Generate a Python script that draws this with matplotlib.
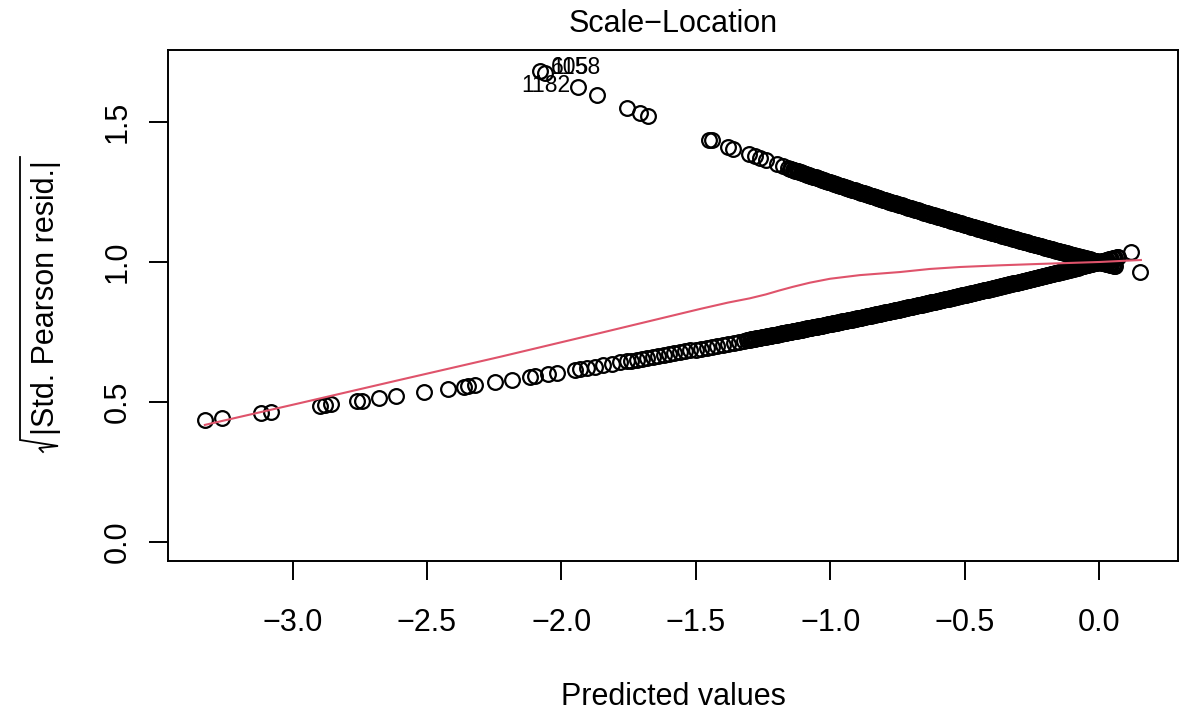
import matplotlib
matplotlib.use("Agg")
import matplotlib.pyplot as plt
from matplotlib.lines import Line2D

plt.rcParams['font.family'] = ['Liberation Sans', 'DejaVu Sans']
plt.rcParams['axes.unicode_minus'] = True

# ---- data ----
# lower branch (sparse points, left part)
low_sparse_x = [-3.326, -3.264, -3.119, -3.080, -2.898, -2.880, -2.855, -2.762, -2.743,
                -2.679, -2.615, -2.510, -2.423, -2.361, -2.347, -2.322, -2.247, -2.185,
                -2.117, -2.098, -2.049, -2.018, -1.950, -1.931, -1.906, -1.875, -1.845,
                -1.813, -1.782, -1.757]
low_sparse_y = [0.436, 0.442, 0.459, 0.464, 0.486, 0.488, 0.491, 0.502, 0.505,
                0.513, 0.521, 0.535, 0.547, 0.555, 0.557, 0.560, 0.570, 0.580,
                0.589, 0.592, 0.599, 0.604, 0.614, 0.617, 0.621, 0.626, 0.631,
                0.636, 0.641, 0.645]
# lower branch (dense band)
low_dense_x = [-1.74, -1.72, -1.70, -1.68, -1.66, -1.64, -1.62, -1.60, -1.58, -1.56, -1.54,
               -1.52, -1.50, -1.48, -1.46, -1.44, -1.42, -1.40, -1.38, -1.36, -1.34, -1.32,
               -1.31, -1.30, -1.29, -1.28, -1.27, -1.26, -1.25, -1.24, -1.23, -1.22, -1.21,
               -1.20, -1.19, -1.18, -1.17, -1.16, -1.15, -1.14, -1.13, -1.12, -1.11,
               -1.10, -1.09, -1.08, -1.07, -1.06, -1.05, -1.04, -1.03, -1.02, -1.01,
               -1.00, -0.99, -0.98, -0.97, -0.96, -0.95, -0.94, -0.93, -0.92, -0.91,
               -0.90, -0.89, -0.88, -0.87, -0.86, -0.85, -0.84, -0.83, -0.82, -0.81,
               -0.80, -0.79, -0.78, -0.77, -0.76, -0.75, -0.74, -0.73, -0.72, -0.71,
               -0.70, -0.69, -0.68, -0.67, -0.66, -0.65, -0.64, -0.63, -0.62, -0.61,
               -0.60, -0.59, -0.58, -0.57, -0.56, -0.55, -0.54, -0.53, -0.52, -0.51,
               -0.50, -0.49, -0.48, -0.47, -0.46, -0.45, -0.44, -0.43, -0.42, -0.41,
               -0.40, -0.39, -0.38, -0.37, -0.36, -0.35, -0.34, -0.33, -0.32, -0.31,
               -0.30, -0.29, -0.28, -0.27, -0.26, -0.25, -0.24, -0.23, -0.22, -0.21,
               -0.20, -0.19, -0.18, -0.17, -0.16, -0.15, -0.14, -0.13, -0.12, -0.11,
               -0.10, -0.09, -0.08, -0.07, -0.06, -0.05, -0.04, -0.03, -0.02, -0.01,
               0.00, 0.01, 0.02, 0.03, 0.04, 0.05, 0.06, 0.07, 0.118]
low_dense_y = [0.6473, 0.6506, 0.6538, 0.6570, 0.6603, 0.6637, 0.6670, 0.6703, 0.6737, 0.6771, 0.6805,
               0.6839, 0.6873, 0.6907, 0.6942, 0.6977, 0.7012, 0.7047, 0.7082, 0.7118, 0.7153, 0.7189,
               0.7207, 0.7225, 0.7243, 0.7261, 0.7280, 0.7298, 0.7316, 0.7334, 0.7353, 0.7371, 0.7390,
               0.7408, 0.7427, 0.7446, 0.7464, 0.7483, 0.7502, 0.7521, 0.7540, 0.7559, 0.7577,
               0.7596, 0.7615, 0.7634, 0.7654, 0.7673, 0.7692, 0.7711, 0.7730, 0.7750, 0.7769,
               0.7788, 0.7808, 0.7827, 0.7847, 0.7867, 0.7886, 0.7906, 0.7926, 0.7945, 0.7965,
               0.7985, 0.8005, 0.8025, 0.8046, 0.8066, 0.8086, 0.8106, 0.8126, 0.8147, 0.8167,
               0.8187, 0.8208, 0.8229, 0.8250, 0.8270, 0.8291, 0.8312, 0.8333, 0.8353, 0.8374,
               0.8395, 0.8416, 0.8437, 0.8459, 0.8480, 0.8501, 0.8522, 0.8543, 0.8565, 0.8586,
               0.8607, 0.8629, 0.8651, 0.8673, 0.8694, 0.8716, 0.8738, 0.8760, 0.8781, 0.8803,
               0.8825, 0.8847, 0.8870, 0.8892, 0.8914, 0.8937, 0.8959, 0.8981, 0.9003, 0.9026,
               0.9048, 0.9071, 0.9094, 0.9117, 0.9140, 0.9163, 0.9185, 0.9208, 0.9231, 0.9254,
               0.9277, 0.9301, 0.9324, 0.9348, 0.9371, 0.9395, 0.9418, 0.9442, 0.9465, 0.9489,
               0.9512, 0.9536, 0.9560, 0.9584, 0.9608, 0.9632, 0.9657, 0.9681, 0.9705, 0.9729,
               0.9753, 0.9778, 0.9802, 0.9827, 0.9851, 0.9876, 0.9901, 0.9925, 0.9950, 0.9975,
               1.0000, 1.0025, 1.0050, 1.0075, 1.0101, 1.0126, 1.0151, 1.0177, 1.034]
# lower branch: further points packed between the ones above
low_fill_x = [-1.305, -1.295, -1.285, -1.275, -1.265, -1.255, -1.245, -1.235, -1.225, -1.215,
              -1.205, -1.195, -1.185, -1.175, -1.165, -1.155, -1.145, -1.135, -1.125, -1.115,
              -1.105, -1.095, -1.085, -1.075, -1.065, -1.055, -1.045, -1.035, -1.025, -1.015,
              -1.005, -0.995, -0.985, -0.975, -0.965, -0.955, -0.945, -0.935, -0.925, -0.915,
              -0.905, -0.895, -0.885, -0.875, -0.865, -0.855, -0.845, -0.835, -0.825, -0.815,
              -0.805, -0.795, -0.785, -0.775, -0.765, -0.755, -0.745, -0.735, -0.725, -0.715,
              -0.705, -0.695, -0.685, -0.675, -0.665, -0.655, -0.645, -0.635, -0.625, -0.615,
              -0.605, -0.595, -0.585, -0.575, -0.565, -0.555, -0.545, -0.535, -0.525, -0.515,
              -0.505, -0.495, -0.485, -0.475, -0.465, -0.455, -0.445, -0.435, -0.425, -0.415,
              -0.405, -0.395, -0.385, -0.375, -0.365, -0.355, -0.345, -0.335, -0.325, -0.315,
              -0.305, -0.295, -0.285, -0.275, -0.265, -0.255, -0.245, -0.235, -0.225, -0.215,
              -0.205, -0.195, -0.185, -0.175, -0.165, -0.155, -0.145, -0.135, -0.125, -0.115,
              -0.105, -0.095, -0.085, -0.075, -0.065, -0.055, -0.045, -0.035, -0.025, -0.015,
              -0.005, 0.005, 0.015, 0.025, 0.035, 0.045, 0.055, 0.065]
low_fill_y = [0.7216, 0.7234, 0.7252, 0.7271, 0.7289, 0.7307, 0.7325, 0.7344, 0.7362, 0.7381,
              0.7399, 0.7418, 0.7437, 0.7455, 0.7474, 0.7493, 0.7512, 0.7531, 0.7550, 0.7568,
              0.7587, 0.7606, 0.7625, 0.7644, 0.7664, 0.7683, 0.7702, 0.7721, 0.7740, 0.7760,
              0.7779, 0.7798, 0.7818, 0.7837, 0.7857, 0.7877, 0.7896, 0.7916, 0.7936, 0.7955,
              0.7975, 0.7995, 0.8015, 0.8036, 0.8056, 0.8076, 0.8096, 0.8116, 0.8137, 0.8157,
              0.8177, 0.8198, 0.8219, 0.8240, 0.8260, 0.8281, 0.8302, 0.8323, 0.8343, 0.8364,
              0.8385, 0.8406, 0.8427, 0.8448, 0.8470, 0.8491, 0.8512, 0.8533, 0.8554, 0.8576,
              0.8597, 0.8618, 0.8640, 0.8662, 0.8684, 0.8705, 0.8727, 0.8749, 0.8771, 0.8792,
              0.8814, 0.8836, 0.8859, 0.8881, 0.8903, 0.8926, 0.8948, 0.8970, 0.8992, 0.9015,
              0.9037, 0.9060, 0.9083, 0.9106, 0.9129, 0.9152, 0.9174, 0.9197, 0.9220, 0.9243,
              0.9266, 0.9289, 0.9313, 0.9336, 0.9360, 0.9383, 0.9407, 0.9430, 0.9454, 0.9477,
              0.9501, 0.9524, 0.9548, 0.9572, 0.9596, 0.9620, 0.9645, 0.9669, 0.9693, 0.9717,
              0.9741, 0.9766, 0.9790, 0.9815, 0.9839, 0.9864, 0.9889, 0.9913, 0.9938, 0.9963,
              0.9988, 1.0013, 1.0038, 1.0063, 1.0088, 1.0114, 1.0139, 1.0164]

# upper branch (sparse points, left part)
up_sparse_x = [-2.080, -2.060, -1.939, -1.869, -1.757, -1.708, -1.677,
               -1.450, -1.441, -1.380, -1.361, -1.304, -1.280, -1.262, -1.239,
               -1.200, -1.175, -1.157]
up_sparse_y = [1.683, 1.675, 1.624, 1.596, 1.551, 1.533, 1.520,
               1.437, 1.434, 1.412, 1.405, 1.385, 1.377, 1.371, 1.363,
               1.350, 1.341, 1.335]
# upper branch (dense band)
up_dense_x = [-1.15, -1.14, -1.13, -1.12, -1.11,
              -1.10, -1.09, -1.08, -1.07, -1.06, -1.05, -1.04, -1.03, -1.02, -1.01,
              -1.00, -0.99, -0.98, -0.97, -0.96, -0.95, -0.94, -0.93, -0.92, -0.91,
              -0.90, -0.89, -0.88, -0.87, -0.86, -0.85, -0.84, -0.83, -0.82, -0.81,
              -0.80, -0.79, -0.78, -0.77, -0.76, -0.75, -0.74, -0.73, -0.72, -0.71,
              -0.70, -0.69, -0.68, -0.67, -0.66, -0.65, -0.64, -0.63, -0.62, -0.61,
              -0.60, -0.59, -0.58, -0.57, -0.56, -0.55, -0.54, -0.53, -0.52, -0.51,
              -0.50, -0.49, -0.48, -0.47, -0.46, -0.45, -0.44, -0.43, -0.42, -0.41,
              -0.40, -0.39, -0.38, -0.37, -0.36, -0.35, -0.34, -0.33, -0.32, -0.31,
              -0.30, -0.29, -0.28, -0.27, -0.26, -0.25, -0.24, -0.23, -0.22, -0.21,
              -0.20, -0.19, -0.18, -0.17, -0.16, -0.15, -0.14, -0.13, -0.12, -0.11,
              -0.10, -0.09, -0.08, -0.07, -0.06, -0.05, -0.04, -0.03, -0.02, -0.01,
              0.00, 0.01, 0.02, 0.03, 0.04, 0.05, 0.06, 0.152]
up_dense_y = [1.3332, 1.3298, 1.3265, 1.3232, 1.3198,
              1.3165, 1.3133, 1.3100, 1.3068, 1.3035, 1.3003, 1.2970, 1.2938, 1.2905, 1.2873,
              1.2840, 1.2808, 1.2777, 1.2745, 1.2713, 1.2682, 1.2650, 1.2618, 1.2586, 1.2555,
              1.2523, 1.2492, 1.2461, 1.2430, 1.2399, 1.2369, 1.2338, 1.2307, 1.2276, 1.2245,
              1.2214, 1.2184, 1.2154, 1.2123, 1.2093, 1.2063, 1.2033, 1.2003, 1.1972, 1.1942,
              1.1912, 1.1883, 1.1853, 1.1824, 1.1794, 1.1765, 1.1736, 1.1706, 1.1677, 1.1647,
              1.1618, 1.1589, 1.1561, 1.1532, 1.1503, 1.1475, 1.1446, 1.1417, 1.1388, 1.1360,
              1.1331, 1.1303, 1.1275, 1.1247, 1.1219, 1.1192, 1.1164, 1.1136, 1.1108, 1.1080,
              1.1052, 1.1025, 1.0997, 1.0970, 1.0943, 1.0916, 1.0888, 1.0861, 1.0834, 1.0806,
              1.0779, 1.0752, 1.0726, 1.0699, 1.0672, 1.0646, 1.0619, 1.0593, 1.0566, 1.0540,
              1.0513, 1.0487, 1.0461, 1.0435, 1.0409, 1.0383, 1.0357, 1.0331, 1.0305, 1.0279,
              1.0253, 1.0228, 1.0202, 1.0177, 1.0151, 1.0126, 1.0101, 1.0075, 1.0050, 1.0025,
              1.0000, 0.9975, 0.9950, 0.9925, 0.9901, 0.9876, 0.9851, 0.965]
# upper branch: further points packed between the ones above
up_fill_x = [-1.145, -1.135, -1.125, -1.115, -1.105, -1.095, -1.085, -1.075, -1.065, -1.055,
             -1.045, -1.035, -1.025, -1.015, -1.005, -0.995, -0.985, -0.975, -0.965, -0.955,
             -0.945, -0.935, -0.925, -0.915, -0.905, -0.895, -0.885, -0.875, -0.865, -0.855,
             -0.845, -0.835, -0.825, -0.815, -0.805, -0.795, -0.785, -0.775, -0.765, -0.755,
             -0.745, -0.735, -0.725, -0.715, -0.705, -0.695, -0.685, -0.675, -0.665, -0.655,
             -0.645, -0.635, -0.625, -0.615, -0.605, -0.595, -0.585, -0.575, -0.565, -0.555,
             -0.545, -0.535, -0.525, -0.515, -0.505, -0.495, -0.485, -0.475, -0.465, -0.455,
             -0.445, -0.435, -0.425, -0.415, -0.405, -0.395, -0.385, -0.375, -0.365, -0.355,
             -0.345, -0.335, -0.325, -0.315, -0.305, -0.295, -0.285, -0.275, -0.265, -0.255,
             -0.245, -0.235, -0.225, -0.215, -0.205, -0.195, -0.185, -0.175, -0.165, -0.155,
             -0.145, -0.135, -0.125, -0.115, -0.105, -0.095, -0.085, -0.075, -0.065, -0.055,
             -0.045, -0.035, -0.025, -0.015, -0.005, 0.005, 0.015, 0.025, 0.035, 0.045, 0.055]
up_fill_y = [1.3315, 1.3282, 1.3249, 1.3215, 1.3182, 1.3149, 1.3117, 1.3084, 1.3052, 1.3019,
             1.2987, 1.2954, 1.2922, 1.2889, 1.2857, 1.2824, 1.2793, 1.2761, 1.2729, 1.2698,
             1.2666, 1.2634, 1.2602, 1.2571, 1.2539, 1.2508, 1.2477, 1.2446, 1.2415, 1.2384,
             1.2354, 1.2323, 1.2292, 1.2261, 1.2230, 1.2199, 1.2169, 1.2139, 1.2108, 1.2078,
             1.2048, 1.2018, 1.1988, 1.1957, 1.1927, 1.1898, 1.1868, 1.1839, 1.1809, 1.1780,
             1.1751, 1.1721, 1.1692, 1.1662, 1.1633, 1.1604, 1.1575, 1.1547, 1.1518, 1.1489,
             1.1461, 1.1432, 1.1403, 1.1374, 1.1346, 1.1317, 1.1289, 1.1261, 1.1233, 1.1206,
             1.1178, 1.1150, 1.1122, 1.1094, 1.1066, 1.1039, 1.1011, 1.0984, 1.0957, 1.0930,
             1.0902, 1.0875, 1.0848, 1.0820, 1.0793, 1.0766, 1.0739, 1.0713, 1.0686, 1.0659,
             1.0633, 1.0606, 1.0580, 1.0553, 1.0527, 1.0500, 1.0474, 1.0448, 1.0422, 1.0396,
             1.0370, 1.0344, 1.0318, 1.0292, 1.0266, 1.0241, 1.0215, 1.0190, 1.0164, 1.0139,
             1.0114, 1.0088, 1.0063, 1.0038, 1.0013, 0.9988, 0.9963, 0.9938, 0.9913, 0.9889, 0.9864]

# lowess smoother (red line)
smooth_x = [-3.326, -2.972, -2.600, -2.229, -1.857, -1.671, -1.485, -1.380, -1.300,
            -1.240, -1.190, -1.140, -1.076, -1.001, -0.890, -0.741, -0.630, -0.518,
            -0.369, -0.221, 0.003, 0.155]
smooth_y = [0.418, 0.496, 0.579, 0.661, 0.746, 0.789, 0.832, 0.855, 0.870,
            0.884, 0.898, 0.911, 0.926, 0.940, 0.953, 0.964, 0.975, 0.982,
            0.988, 0.993, 1.000, 1.007]

# labelled points
id_labels = ["605", "1158", "1182"]
id_x = [-2.039, -2.039, -1.968]
id_y = [1.696, 1.696, 1.632]
id_ha = ["left", "left", "right"]

x_ticks = [-3.0, -2.5, -2.0, -1.5, -1.0, -0.5, 0.0]
y_ticks = [0.0, 0.5, 1.0, 1.5]

# ---- figure ----
W, H = 1182, 715
fig = plt.figure(figsize=(W / 100, H / 100), dpi=100)
ax = fig.add_axes([168 / W, 1 - 561 / H, (1178 - 168) / W, (561 - 50) / H])

mk = dict(linestyle='none', marker='o', mfc='none', mec='black', ms=10.6, mew=1.6)
ax.plot(low_sparse_x, low_sparse_y, **mk)
ax.plot(low_dense_x, low_dense_y, **mk)
ax.plot(low_fill_x, low_fill_y, **mk)
ax.plot(up_sparse_x, up_sparse_y, **mk)
ax.plot(up_dense_x, up_dense_y, **mk)
ax.plot(up_fill_x, up_fill_y, **mk)
ax.plot(smooth_x, smooth_y, color='#DF536B', lw=1.5, zorder=5)

for lab, lx, ly, ha in zip(id_labels, id_x, id_y, id_ha):
    ax.text(lx, ly, lab, ha=ha, va='center', fontsize=16.5, clip_on=False)

ax.set_xlim(-3.463, 0.293)
ax.set_ylim(-0.068, 1.757)
ax.set_xticks(x_ticks)
ax.set_xticklabels([f"{v:.1f}".replace('-', '\u2212') for v in x_ticks])
ax.set_yticks(y_ticks)
ax.set_yticklabels([f"{v:.1f}" for v in y_ticks], rotation=90, va='center')

for s in ax.spines.values():
    s.set_linewidth(1.4)
ax.tick_params(axis='both', direction='out', length=13.7, width=1.4, labelsize=22)
ax.tick_params(axis='x', pad=20)
ax.tick_params(axis='y', pad=12)

fig.text(673 / W, 1 - 24 / H, "Scale\u2212Location", ha='center', va='center', fontsize=22)
fig.text(673 / W, 1 - 697 / H, "Predicted values", ha='center', va='center', fontsize=22)

# y axis label: |Std. Pearson resid.| under a square-root sign
fig.text(46 / W, 1 - 298 / H, "|Std. Pearson resid.|", ha='center', va='center',
         rotation=90, fontsize=22)


def fp(x, y):
    return x / W, 1 - y / H


rad = [fp(43, 452), fp(39, 448), fp(58, 446), fp(20, 440), fp(20, 157)]
fig.add_artist(Line2D([p[0] for p in rad], [p[1] for p in rad], color='black',
                      lw=1.3, transform=fig.transFigure, solid_joinstyle='miter'))

fig.savefig("out.png", dpi=100, facecolor='white')
